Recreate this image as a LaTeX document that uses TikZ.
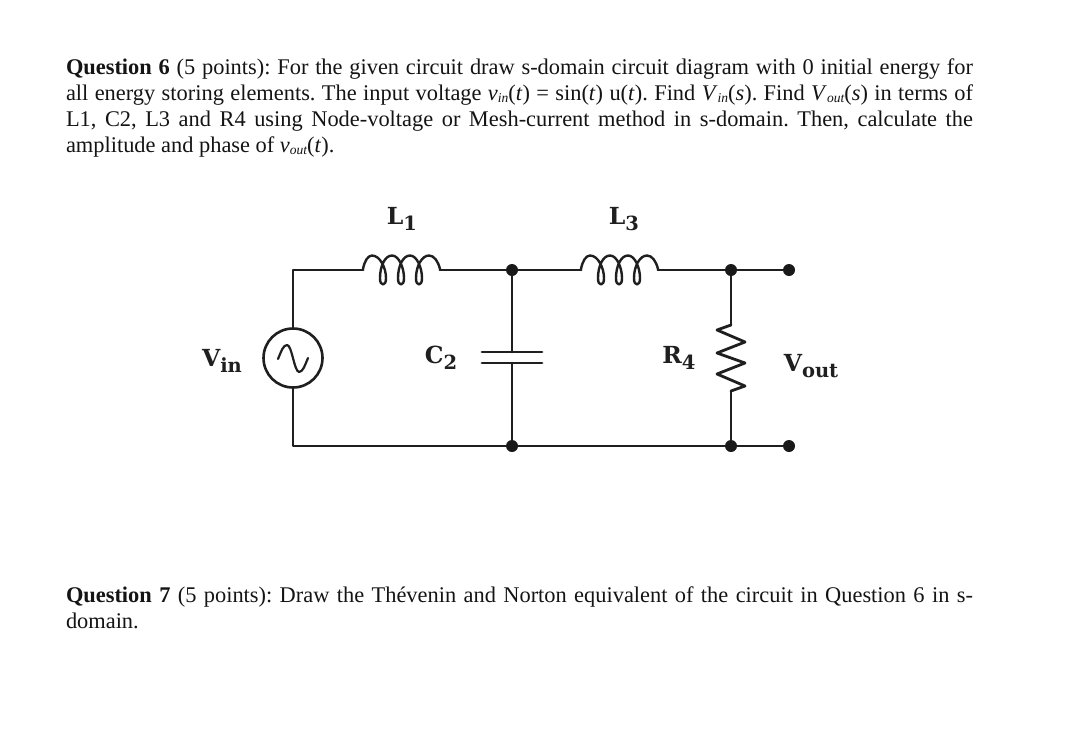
\documentclass[tikz,border=0pt]{standalone}
\usepackage{fontspec}
\setmainfont{Liberation Serif}
\newfontfamily\lblfont{DejaVu Serif}[BoldFont={DejaVu Serif Bold}]
\newcommand{\tsub}[1]{\raisebox{-2.5pt}{\fontsize{13.5}{14}\selectfont\itshape #1}}
\newcommand{\csym}[2]{{\lblfont\bfseries\fontsize{23.5}{28}\selectfont #1\raisebox{-5.5pt}{\fontsize{19.5}{22}\selectfont #2}}}
\newcommand{\tline}[1]{\hbox to 907pt{\frenchspacing #1}}
\tikzset{
  wire/.style={line width=2.8pt,line cap=round,line join=round,black!88},
  dot/.style={circle,fill=black!90,draw=none,inner sep=0pt,minimum size=12pt},
  srcnode/.style={circle,draw=black!88,line width=2.6pt,fill=white,inner sep=0pt,minimum size=59pt},
  txt/.style={anchor=base west,inner sep=0pt,outer sep=0pt,font=\fontsize{22.4}{26}\selectfont,text=black!92},
  lbl/.style={inner sep=0pt,text=black!88},
  coil/.pic={
    \draw[wire,line width=2.4pt] (0,0) -- (0,-1) .. controls (1.5,-9) and (5,-14.5) .. (9,-14.5)
      .. controls (17,-14.5) and (23,-2) .. (23,8) .. controls (23,12) and (22,14.5) .. (20,14.5)
      .. controls (18,14.5) and (17,12) .. (17,8) .. controls (17,-4) and (22,-14.5) .. (29,-14.5)
      .. controls (36,-14.5) and (41,-2) .. (41,8) .. controls (41,12) and (40,14.5) .. (38,14.5)
      .. controls (36,14.5) and (35,12) .. (35,8) .. controls (35,-4) and (40,-14.5) .. (47,-14.5)
      .. controls (54,-14.5) and (59,-2) .. (59,8) .. controls (59,12) and (58,14.5) .. (56,14.5)
      .. controls (54,14.5) and (53,12) .. (53,8) .. controls (53,-4) and (59,-14.5) .. (66,-14.5)
      .. controls (71,-14.5) and (75,-9) .. (77,-1) -- (77,0);
  }
}
\begin{document}
\begin{tikzpicture}[x=1pt,y=-1pt]
\useasboundingbox (0,0) rectangle (1080,737);
\fill[white] (0,0) rectangle (1080,737);
% text
\node[txt] (q6a) at (66,74) {\tline{\textbf{Question 6} (5 points): For the given circuit draw s-domain circuit diagram with 0 initial energy for}};
\node[txt] (q6b) at (66,100) {\tline{all energy storing elements. The input voltage \textit{v}\tsub{in}(\textit{t}) = sin(\textit{t}) u(\textit{t}). Find \textit{V}\tsub{in}(\textit{s}). Find \textit{V}\tsub{out}(\textit{s}) in terms of}};
\node[txt] (q6c) at (66,126) {\tline{L1, C2, L3 and R4 using Node-voltage or Mesh-current method in s-domain. Then, calculate the}};
\node[txt] (q6d) at (66,152) {amplitude and phase of \textit{v}\tsub{out}(\textit{t}).};
\node[txt] (q7a) at (66,602) {\tline{\textbf{Question 7} (5 points): Draw the Thévenin and Norton equivalent of the circuit in Question 6 in s-}};
\node[txt] (q7b) at (66,628) {domain.};
% points
\coordinate (tl) at (293,270);
\coordinate (bl) at (293,446);
\coordinate (La) at (363,270);
\coordinate (Lb) at (440,270);
\coordinate (Lc) at (581,270);
\coordinate (Ld) at (658,270);
\coordinate (c1) at (512,352);
\coordinate (c2) at (512,363);
\coordinate (r1) at (731,325);
\coordinate (r2) at (731,391);
\node[srcnode] (src) at (293,358) {};
\node[dot] (jt1) at (512,270) {};
\node[dot] (jb1) at (512,446) {};
\node[dot] (jt2) at (731,270) {};
\node[dot] (jb2) at (731,446) {};
\node[dot] (tt) at (789,270) {};
\node[dot] (tb) at (789,446) {};
% wires
\draw[wire] (src.north) -- (tl) -- (La);
\draw[wire] (src.south) -- (bl) -- (jb1);
\draw[wire] (Lb) -- (jt1) -- (Lc);
\draw[wire] (Ld) -- (jt2) -- (tt);
\draw[wire] (jb1) -- (jb2) -- (tb);
\draw[wire] (jt1) -- (c1);
\draw[wire] (c2) -- (jb1);
\draw[wire] (jt2) -- (r1);
\draw[wire] (r2) -- (jb2);
% coils
\pic at (La) {coil};
\pic at (Lc) {coil};
% capacitor plates
\draw[wire] (482,352) -- (c1) -- (542,352);
\draw[wire] (482,363) -- (c2) -- (542,363);
% resistor
\draw[wire] (r1) -- (717,330) -- (745,342) -- (717,353) -- (745,363) -- (717,374) -- (745,386) -- (r2);
% sine
\draw[wire,line width=2.2pt] (278,359) .. controls (281,352) and (283,345) .. (287,345) .. controls (292,345) and (294,371) .. (299,372) .. controls (303,372) and (305,365) .. (308,358);
% labels
\node[lbl] (lL1) at (402,219) {\csym{L}{1}};
\node[lbl] (lL3) at (624,219) {\csym{L}{3}};
\node[lbl] (lC2) at (441,358) {\csym{C}{2}};
\node[lbl] (lR4) at (679,358) {\csym{R}{4}};
\node[lbl] (lVin) at (222,361) {\csym{V}{in}};
\node[lbl] (lVout) at (811,366) {\csym{V}{out}};
\end{tikzpicture}
\end{document}
